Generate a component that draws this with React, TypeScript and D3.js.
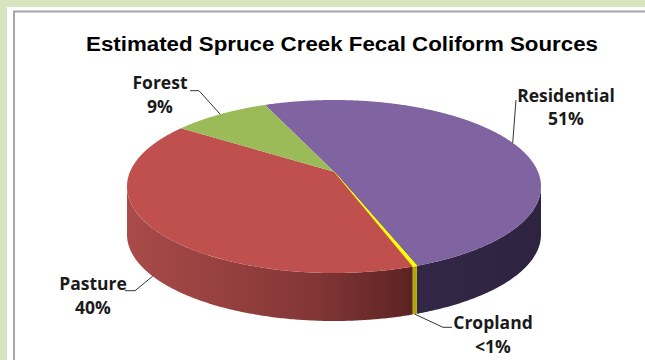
import React from 'react';
import * as d3 from 'd3';

const title = 'Estimated Spruce Creek Fecal Coliform Sources';
const categories = ['Residential', 'Cropland', 'Pasture', 'Forest'];
const values = [51, 0.3, 40, 9];
const valueLabels = ['51%', '<1%', '40%', '9%'];

const topColors = ['#8064A2', '#FFFF00', '#C0504D', '#9BBB59'];
const wallStops = [
  [['#3E2F54', 0], ['#2E2340', 1]],
  [['#D8D000', 0], ['#A09800', 1]],
  [['#A94B49', 0], ['#833636', 0.45], ['#5A2222', 0.7]],
  [['#7A9444', 0], ['#5C7033', 1]],
];

// label layout: [textCenterX, baselineY, elbowX, elbowY, endX]
const labelLayout = [
  [566, 101.5, 516, 100, 516],
  [493, 329, 443, 327.3, 452],
  [93, 290, 135, 290.7, 125],
  [160, 89, 199, 90.7, 190],
];

const W = 645, H = 360;
const cx = 334, cy = 186.5, rx = 207, ry = 86.5, depth = 48, tilt = -0.17;
const startDeg = -23;

function proj(theta: number, dy = 0): [number, number] {
  const u = Math.sin(theta), v = -Math.cos(theta);
  const k = 1 + tilt * v;
  const up = (u * Math.sqrt(1 - tilt * tilt)) / k;
  const vp = (v + tilt) / k;
  return [cx + rx * up, cy + ry * vp + dy];
}
function isFront(theta: number) {
  const v = -Math.cos(theta);
  return v + tilt > 0;
}

export default function App() {
  const start = (startDeg * Math.PI) / 180;
  const arcs = d3.pie<number>().sort(null).startAngle(start).endAngle(start + 2 * Math.PI)(values);
  const line = d3.line();
  const center: [number, number] = [cx, cy + ry * tilt];

  const sample = (a: number, b: number) => {
    const n = Math.max(2, Math.ceil(((b - a) * 180) / Math.PI / 0.5));
    return d3.range(n + 1).map((i) => a + ((b - a) * i) / n);
  };

  const frontA = Math.acos(tilt);
  const frontB = 2 * Math.PI - frontA;

  const walls: { d: string; i: number }[] = [];
  arcs.forEach((arc, i) => {
    for (const off of [0, 2 * Math.PI, -2 * Math.PI]) {
      const a = Math.max(arc.startAngle + off, frontA);
      const b = Math.min(arc.endAngle + off, frontB);
      if (b > a) {
        const ts = sample(a, b);
        const topPts = ts.map((th) => proj(th));
        const botPts = ts.slice().reverse().map((th) => proj(th, depth));
        walls.push({ d: (line([...topPts, ...botPts]) || '') + 'Z', i });
      }
    }
  });

  const tops = arcs.map((arc, i) => {
    const pts = sample(arc.startAngle, arc.endAngle).map((th) => proj(th));
    return { d: (line([center, ...pts]) || '') + 'Z', i };
  });

  const leaders = arcs.map((arc, i) => {
    const mid = (arc.startAngle + arc.endAngle) / 2;
    const anchor = isFront(mid) ? proj(mid, depth) : proj(mid);
    const L = labelLayout[i];
    return { pts: [anchor, [L[2], L[3]], [L[4], L[3]]] as [number, number][], i };
  });

  const labelFont = '"Open Sans", Lato, sans-serif';

  return (
    <svg width={W} height={H} style={{ position: 'absolute', left: 0, top: 0 }}>
      <defs>
        {wallStops.map((stops, i) => (
          <linearGradient key={i} id={`wall${i}`} gradientUnits="userSpaceOnUse" x1={cx - rx} x2={cx + rx} y1={0} y2={0}>
            {stops.map(([c, o], j) => (
              <stop key={j} offset={o as number} stopColor={c as string} />
            ))}
          </linearGradient>
        ))}
      </defs>
      <rect x={0} y={0} width={W} height={H} fill="#D7E4BD" />
      <rect x={7} y={7} width={W} height={H} fill="#FFFFFF" />
      <rect x={14} y={11.5} width={W} height={H} fill="#FFFFFF" stroke="#A6A6A6" strokeWidth={2} />
      <text x={342} y={51} textAnchor="middle" fontFamily='"Liberation Sans", Arial, sans-serif' fontWeight="bold" fontSize={20} fill="#000" textLength={512} lengthAdjust="spacingAndGlyphs">
        {title}
      </text>
      {walls.map((w, k) => (
        <path key={`w${k}`} d={w.d} fill={`url(#wall${w.i})`} />
      ))}
      {tops.map((t) => (
        <path key={`t${t.i}`} d={t.d} fill={topColors[t.i]} stroke={t.i === 1 ? '#FFFF00' : 'none'} strokeWidth={t.i === 1 ? 1 : 0} />
      ))}
      {leaders.map((l) => (
        <path key={`l${l.i}`} d={line(l.pts) || ''} fill="none" stroke="#333" strokeWidth={1} />
      ))}
      {categories.map((c, i) => (
        <g key={c} fontFamily={labelFont} fontWeight="bold" fontSize={17.5} fill="#1a1a1a" textAnchor="middle">
          <text x={labelLayout[i][0]} y={labelLayout[i][1]}>{c}</text>
          <text x={labelLayout[i][0]} y={labelLayout[i][1] + 23.5}>{valueLabels[i]}</text>
        </g>
      ))}
    </svg>
  );
}
